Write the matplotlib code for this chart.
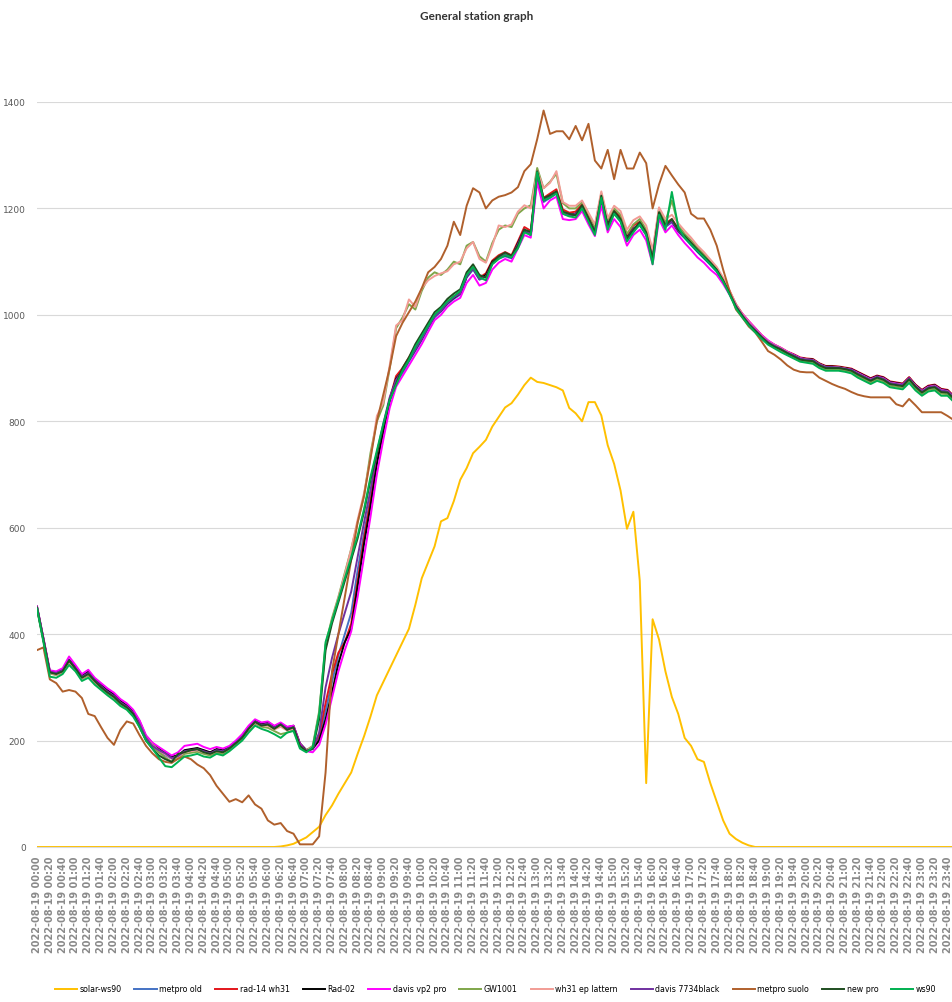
import numpy as np
import matplotlib.pyplot as plt

# categorie: ogni 10 minuti del 2022-08-19
orari = ['2022-08-19 %02d:%02d' % (h, m) for h in range(24) for m in range(0, 60, 10)]

solar_ws90 = [0] * 38 + [
    1, 3, 6, 12, 18, 28, 38, 60, 78, 100, 120, 140,
    175, 208, 245, 285, 310, 335, 360, 385, 410, 455,
    505, 535, 565, 612, 618, 650, 690, 712, 740, 752,
    765, 790, 808, 826, 834, 850, 868, 882, 874, 872,
    868, 864, 858, 825, 815, 800, 836, 836, 811, 755,
    720, 670, 598, 630, 500, 120, 428, 390, 330, 282,
    250, 205, 190, 165, 160, 120, 85, 50, 25, 15,
    8, 3] + [0] * 32

metpro_old = [451, 391, 329, 327, 332, 352, 337, 320, 328, 314,
              303, 292, 285, 273, 264, 253, 228, 204, 190, 180,
              172, 166, 172, 180, 182, 184, 180, 176, 182, 180,
              187, 197, 208, 224, 236, 230, 232, 224, 231, 223,
              226, 192, 181, 184, 205, 255, 310, 360, 400, 440,
              520, 590, 655, 730, 785, 838, 875, 890, 912, 932,
              952, 975, 995, 1006, 1020, 1030, 1038, 1070, 1085, 1066,
              1072, 1096, 1106, 1110, 1106, 1132, 1158, 1150, 1258, 1212,
              1220, 1228, 1190, 1186, 1188, 1202, 1178, 1156, 1216, 1166,
              1190, 1176, 1142, 1160, 1168, 1150, 1106, 1188, 1165, 1174,
              1156, 1144, 1131, 1118, 1106, 1094, 1081, 1061, 1040, 1016,
              999, 984, 972, 958, 948, 941, 935, 929, 923, 917,
              915, 914, 906, 901, 901, 900, 898, 896, 890, 884,
              878, 883, 880, 872, 870, 868, 880, 866, 856, 864,
              866, 858, 856, 844]

rad14_wh31 = [449, 389, 327, 326, 331, 349, 334, 319, 326, 313,
              302, 291, 284, 272, 263, 252, 230, 206, 191, 182,
              175, 168, 170, 180, 183, 185, 181, 177, 183, 181,
              187, 196, 207, 224, 236, 230, 233, 225, 231, 222,
              226, 193, 182, 186, 210, 270, 325, 365, 385, 420,
              500, 580, 650, 725, 785, 842, 885, 900, 920, 940,
              958, 980, 1000, 1010, 1025, 1035, 1042, 1075, 1090, 1070,
              1078, 1102, 1112, 1118, 1112, 1138, 1165, 1158, 1266, 1220,
              1228, 1236, 1198, 1192, 1194, 1208, 1185, 1162, 1222, 1175,
              1196, 1184, 1150, 1168, 1175, 1158, 1112, 1195, 1172, 1180,
              1162, 1150, 1138, 1125, 1112, 1100, 1086, 1066, 1045, 1020,
              1002, 988, 975, 962, 951, 944, 938, 931, 926, 920,
              918, 917, 909, 904, 904, 903, 901, 899, 893, 887,
              881, 886, 883, 875, 873, 871, 883, 869, 859, 867,
              869, 861, 859, 847]

rad_02 = [452, 392, 330, 328, 333, 352, 338, 322, 330, 316,
          305, 295, 287, 275, 266, 255, 236, 208, 195, 185,
          178, 170, 172, 182, 184, 186, 182, 178, 184, 182,
          188, 198, 210, 226, 238, 232, 235, 226, 232, 225,
          228, 195, 182, 185, 200, 240, 290, 345, 385, 410,
          490, 570, 640, 720, 780, 840, 880, 895, 915, 935,
          955, 978, 998, 1008, 1022, 1032, 1040, 1072, 1088, 1068,
          1075, 1100, 1108, 1112, 1108, 1135, 1160, 1150, 1262, 1215,
          1222, 1230, 1192, 1188, 1190, 1204, 1180, 1158, 1218, 1170,
          1192, 1178, 1145, 1162, 1170, 1152, 1110, 1190, 1168, 1176,
          1158, 1146, 1133, 1120, 1108, 1096, 1083, 1063, 1042, 1018,
          1000, 985, 973, 960, 950, 943, 937, 930, 925, 919,
          917, 916, 908, 903, 903, 902, 900, 898, 892, 886,
          880, 885, 882, 874, 872, 870, 882, 868, 858, 866,
          868, 860, 858, 846]

davis_vp2 = [452, 393, 332, 330, 336, 358, 342, 325, 333, 318,
             308, 298, 290, 278, 270, 258, 238, 210, 196, 188,
             180, 172, 178, 190, 192, 194, 188, 184, 188, 185,
             190, 200, 212, 228, 240, 234, 236, 228, 234, 226,
             228, 194, 180, 178, 192, 230, 280, 330, 370, 405,
             470, 545, 620, 700, 765, 825, 865, 885, 905, 925,
             945, 968, 990, 1000, 1015, 1025, 1032, 1060, 1075, 1055,
             1060, 1085, 1098, 1105, 1100, 1125, 1150, 1145, 1250, 1200,
             1215, 1222, 1180, 1178, 1180, 1195, 1170, 1148, 1205, 1155,
             1180, 1165, 1130, 1150, 1160, 1140, 1095, 1180, 1155, 1168,
             1150, 1135, 1122, 1108, 1098, 1085, 1075, 1058, 1038, 1016,
             1002, 988, 975, 962, 952, 944, 938, 931, 925, 919,
             916, 915, 907, 902, 902, 901, 899, 897, 891, 885,
             879, 884, 881, 873, 871, 869, 881, 867, 857, 865,
             867, 859, 857, 845]

gw1001 = [448, 388, 326, 323, 328, 346, 332, 316, 322, 309,
          298, 288, 280, 268, 260, 248, 228, 203, 190, 178,
          168, 160, 166, 175, 177, 179, 175, 172, 177, 175,
          182, 192, 202, 218, 232, 226, 224, 218, 212, 215,
          220, 188, 182, 190, 255, 380, 430, 470, 515, 560,
          610, 660, 740, 800, 830, 900, 975, 995, 1020, 1010,
          1045, 1070, 1080, 1075, 1085, 1100, 1095, 1130, 1137, 1110,
          1100, 1135, 1160, 1168, 1165, 1190, 1200, 1206, 1276, 1238,
          1250, 1265, 1210, 1200, 1200, 1212, 1190, 1165, 1228, 1178,
          1200, 1188, 1152, 1170, 1180, 1160, 1115, 1200, 1175, 1215,
          1168, 1152, 1140, 1127, 1114, 1100, 1086, 1066, 1043, 1016,
          998, 983, 970, 957, 946, 939, 933, 926, 920, 914,
          912, 911, 903, 898, 898, 897, 895, 892, 885, 879,
          873, 879, 875, 867, 865, 863, 876, 862, 851, 859,
          861, 852, 851, 839]

wh31_ep = [449, 389, 327, 324, 329, 348, 333, 317, 324, 311,
           300, 290, 282, 270, 262, 250, 230, 205, 192, 182,
           174, 166, 170, 178, 180, 182, 178, 175, 180, 178,
           185, 195, 205, 221, 234, 228, 228, 221, 226, 219,
           223, 189, 181, 188, 250, 375, 425, 468, 512, 560,
           615, 665, 730, 810, 835, 905, 980, 990, 1029, 1015,
           1050, 1065, 1073, 1078, 1082, 1095, 1100, 1125, 1137, 1105,
           1098, 1130, 1168, 1165, 1170, 1194, 1206, 1200, 1270, 1238,
           1248, 1270, 1212, 1205, 1205, 1215, 1192, 1170, 1232, 1182,
           1205, 1195, 1160, 1178, 1185, 1168, 1122, 1202, 1180, 1188,
           1172, 1158, 1145, 1130, 1118, 1104, 1090, 1070, 1046, 1020,
           1001, 986, 973, 960, 950, 943, 937, 930, 924, 918,
           916, 915, 907, 902, 902, 901, 899, 896, 890, 884,
           878, 883, 880, 872, 870, 868, 880, 866, 856, 864,
           866, 858, 856, 844]

davis_7734 = [450, 390, 329, 327, 332, 351, 336, 320, 327, 314,
              302, 292, 284, 272, 264, 252, 231, 205, 190, 182,
              176, 167, 171, 180, 182, 184, 180, 176, 182, 180,
              186, 196, 207, 223, 236, 229, 232, 224, 231, 222,
              225, 191, 181, 184, 215, 300, 355, 400, 440, 480,
              545, 610, 670, 740, 795, 845, 878, 895, 915, 935,
              955, 977, 997, 1008, 1022, 1033, 1040, 1072, 1087, 1067,
              1072, 1097, 1107, 1113, 1108, 1133, 1160, 1152, 1262, 1215,
              1222, 1230, 1192, 1187, 1190, 1203, 1179, 1157, 1218, 1168,
              1192, 1178, 1143, 1162, 1171, 1152, 1106, 1190, 1166, 1176,
              1158, 1146, 1134, 1121, 1109, 1097, 1083, 1063, 1041, 1017,
              999, 984, 972, 959, 949, 942, 936, 929, 924, 918,
              916, 915, 907, 902, 902, 901, 899, 897, 890, 884,
              878, 884, 880, 872, 870, 868, 880, 866, 856, 864,
              866, 858, 856, 844]

metpro_suolo = [370, 375, 315, 308, 292, 295, 292, 280, 250, 246,
                225, 205, 192, 220, 236, 232, 210, 190, 176, 165,
                160, 158, 166, 170, 165, 155, 148, 135, 115, 100,
                85, 90, 84, 97, 80, 72, 50, 42, 45, 30,
                25, 5, 5, 5, 20, 140, 330, 400, 470, 540,
                610, 660, 730, 800, 850, 900, 960, 985, 1005, 1025,
                1050, 1080, 1090, 1105, 1130, 1175, 1150, 1205, 1238, 1230,
                1200, 1215, 1222, 1225, 1230, 1240, 1270, 1283, 1330, 1384,
                1340, 1345, 1345, 1330, 1355, 1328, 1359, 1290, 1275, 1310,
                1255, 1310, 1275, 1275, 1305, 1285, 1200, 1245, 1280, 1262,
                1245, 1230, 1190, 1181, 1181, 1160, 1130, 1085, 1045, 1010,
                995, 978, 967, 950, 932, 925, 916, 905, 897, 893,
                892, 892, 882, 876, 870, 865, 861, 855, 850, 847,
                845, 845, 845, 845, 832, 828, 842, 830, 817, 817,
                817, 817, 810, 802]

new_pro = [450, 390, 328, 325, 330, 350, 335, 318, 325, 312,
           300, 290, 282, 270, 262, 250, 225, 200, 185, 172,
           165, 160, 175, 178, 182, 184, 178, 175, 180, 178,
           185, 195, 205, 222, 235, 228, 230, 222, 230, 220,
           225, 190, 180, 185, 240, 370, 420, 460, 500, 540,
           580, 630, 690, 740, 790, 840, 870, 900, 920, 945,
           965, 985, 1005, 1015, 1030, 1040, 1048, 1080, 1095, 1075,
           1070, 1098, 1110, 1117, 1111, 1130, 1160, 1156, 1270, 1219,
           1225, 1232, 1194, 1190, 1187, 1206, 1181, 1155, 1224, 1168,
           1195, 1180, 1143, 1160, 1174, 1155, 1105, 1193, 1168, 1180,
           1160, 1148, 1135, 1122, 1110, 1098, 1085, 1065, 1040, 1015,
           998, 982, 970, 958, 947, 940, 935, 928, 922, 916,
           914, 913, 905, 900, 900, 900, 898, 895, 888, 882,
           876, 882, 878, 870, 868, 866, 879, 865, 854, 862,
           864, 855, 854, 842]

ws90 = [448, 385, 320, 318, 325, 342, 330, 312, 318, 305,
        295, 285, 276, 265, 258, 245, 225, 200, 185, 168,
        152, 150, 160, 170, 172, 175, 170, 168, 175, 172,
        180, 190, 200, 215, 228, 222, 218, 212, 205, 215,
        218, 185, 178, 188, 250, 385, 425, 465, 505, 545,
        585, 635, 695, 745, 795, 840, 868, 895, 915, 940,
        960, 980, 1000, 1012, 1025, 1035, 1045, 1075, 1090, 1070,
        1065, 1095, 1105, 1112, 1108, 1125, 1155, 1150, 1268, 1215,
        1220, 1228, 1190, 1185, 1183, 1200, 1175, 1150, 1220, 1160,
        1190, 1175, 1138, 1155, 1170, 1150, 1095, 1188, 1160, 1231,
        1165, 1145, 1132, 1120, 1108, 1095, 1082, 1062, 1038, 1012,
        995, 980, 967, 955, 944, 937, 930, 924, 918, 912,
        910, 908, 900, 895, 895, 895, 893, 890, 882, 876,
        870, 876, 872, 864, 862, 860, 872, 858, 848, 856,
        858, 848, 848, 836]

serie = [
    ('solar-ws90', solar_ws90, '#FFC000'),
    ('metpro old', metpro_old, '#4472C4'),
    ('rad-14 wh31', rad14_wh31, '#E3151B'),
    ('Rad-02', rad_02, '#000000'),
    ('davis vp2 pro', davis_vp2, '#FF00FF'),
    ('GW1001', gw1001, '#7FA64A'),
    ('wh31 ep lattern', wh31_ep, '#F29C95'),
    ('davis 7734black', davis_7734, '#7030A0'),
    ('metpro suolo', metpro_suolo, '#B0602C'),
    ('new pro', new_pro, '#1F4E20'),
    ('ws90', ws90, '#00B050'),
]

fig = plt.figure(figsize=(9.53, 10.03), dpi=100)
ax = fig.add_axes([37 / 953, 1 - 848 / 1003, 917 / 953, 745 / 1003])

x = np.arange(len(orari))
for nome, valori, colore in serie:
    ax.plot(x, valori, color=colore, lw=1.4, label=nome)

ax.set_xlim(0, len(orari) - 1)
ax.set_ylim(0, 1400)
ax.set_yticks(np.arange(0, 1401, 200))
ax.yaxis.grid(True, color='#D9D9D9', lw=0.8)
ax.set_axisbelow(True)
for s in ['top', 'right', 'left']:
    ax.spines[s].set_visible(False)
ax.spines['bottom'].set_color('#D9D9D9')

ax.set_xticks(x[::2])
ax.set_xticklabels(orari[::2], rotation=90, fontsize=7, fontweight='bold', color='#8A8A8A')
ax.tick_params(axis='x', length=0, pad=6)
ax.tick_params(axis='y', length=0, pad=8, labelsize=6.5, labelcolor='#595959')

fig.text(0.5, 1 - 17 / 1003, 'General station graph', ha='center', va='center',
         fontsize=8.5, fontweight='bold', color='#333333', family='Lato')

fig.legend(loc='center', bbox_to_anchor=(0.52, 1 - 990 / 1003), ncol=11, frameon=False,
           fontsize=5.7, handlelength=2.8, columnspacing=1.65, handletextpad=0.3,
           borderpad=0.2)

plt.savefig('out.png', dpi=100)
